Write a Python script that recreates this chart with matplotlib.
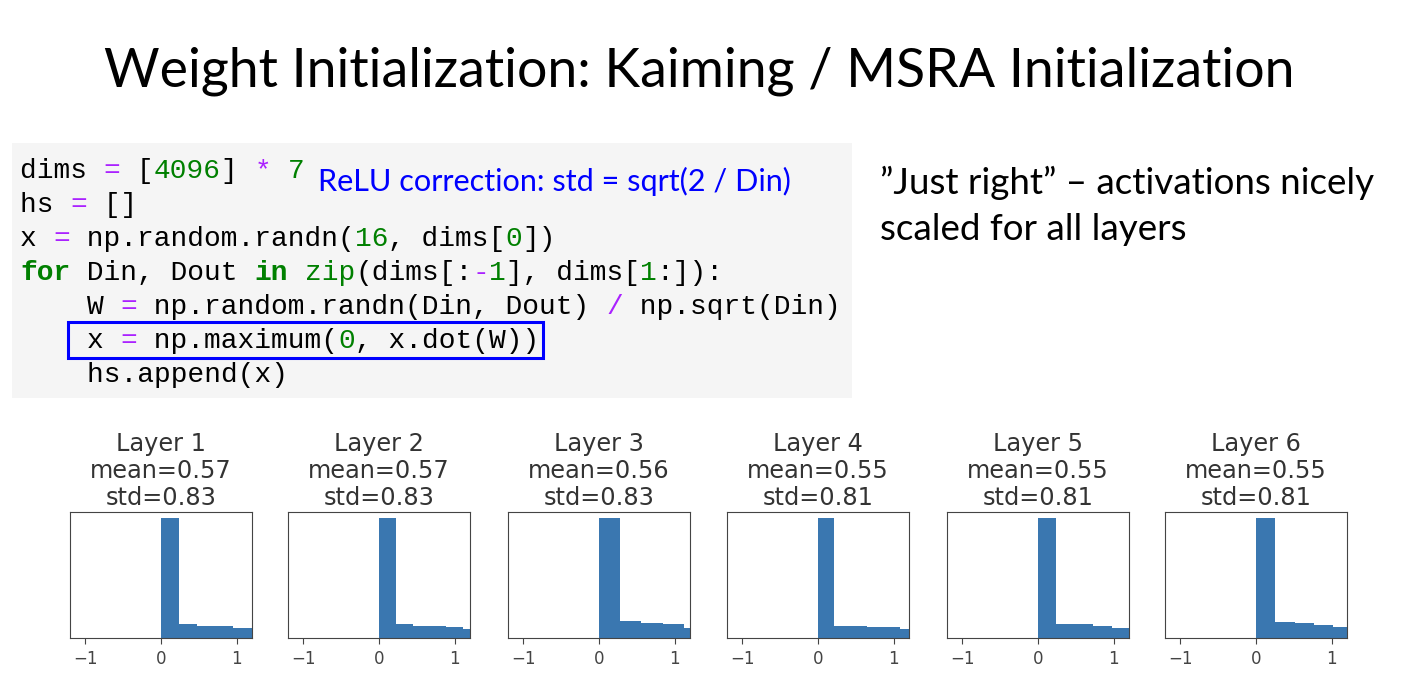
import numpy as np
import matplotlib.pyplot as plt
from matplotlib.patches import Rectangle

W_PX, H_PX = 1419, 700

title = "Weight Initialization: Kaiming / MSRA Initialization"
note = "ReLU correction: std = sqrt(2 / Din)"
remark = ["\u201dJust right\u201d \u2013 activations nicely", "scaled for all layers"]

# per-layer stats shown in titles
layers = [1, 2, 3, 4, 5, 6]
means = [0.57, 0.57, 0.56, 0.55, 0.55, 0.55]
stds = [0.83, 0.83, 0.83, 0.81, 0.81, 0.81]

# histogram bin widths and bar heights (tallest bar = 100)
bin_widths = [0.238, 0.222, 0.28, 0.215, 0.243, 0.255]
bar_heights = [
    [100, 11.4, 10.0, 10.0, 8.6, 8.6],
    [100, 11.4, 10.0, 10.0, 8.9, 7.2],
    [100, 14.2, 12.8, 11.7, 8.6],
    [100, 10.0, 10.0, 8.9, 8.9, 7.2],
    [100, 11.4, 11.4, 10.0, 8.6],
    [100, 13.5, 12.2, 10.8, 9.4],
]

# code listing, tokens as (text, kind)
code = [
    [("dims ", "n"), ("=", "o"), (" [", "n"), ("4096", "m"), ("] ", "n"), ("*", "o"), (" ", "n"), ("7", "m")],
    [("hs ", "n"), ("=", "o"), (" []", "n")],
    [("x ", "n"), ("=", "o"), (" np.random.randn(", "n"), ("16", "m"), (", dims[", "n"), ("0", "m"), ("])", "n")],
    [("for", "k"), (" Din, Dout ", "n"), ("in", "k"), (" ", "n"), ("zip", "b"), ("(dims[:", "n"),
     ("-", "o"), ("1", "m"), ("], dims[", "n"), ("1", "m"), (":]):", "n")],
    [("    W ", "n"), ("=", "o"), (" np.random.randn(Din, Dout) ", "n"), ("/", "o"), (" np.sqrt(Din)", "n")],
    [("    x ", "n"), ("=", "o"), (" np.maximum(", "n"), ("0", "m"), (", x.dot(W))", "n")],
    [("    hs.append(x)", "n")],
]
token_color = {"n": "black", "o": "#aa22ff", "m": "#008000", "k": "#008000", "b": "#008000"}

fig = plt.figure(figsize=(W_PX / 100, H_PX / 100), dpi=100)


def fx(px):
    return px / W_PX


def fy(py):
    return 1 - py / H_PX


fig.text(fx(699), fy(71), title, ha="center", va="center", fontsize=38.7,
         family="Lato", color="black")

# code box
fig.patches.append(Rectangle((fx(12), fy(398)), fx(840), (398 - 143) / H_PX,
                             transform=fig.transFigure, facecolor="#f5f5f5", edgecolor="none"))
code_fs = 20.1
char_px = 0.6 * code_fs * 100 / 72
for row, tokens in enumerate(code):
    col = 0
    y = fy(171 + row * 34)
    for text, kind in tokens:
        fig.text(fx(20 + col * char_px), y, text, ha="left", va="center", fontsize=code_fs,
                 family="Liberation Mono", color=token_color[kind],
                 fontweight="bold" if kind == "k" else "normal")
        col += len(text)

fig.text(fx(318), fy(181), note, ha="left", va="center", fontsize=22.1, family="Lato", color="#0000ff")
fig.patches.append(Rectangle((fx(68), fy(358)), fx(475), 36 / H_PX, transform=fig.transFigure,
                             facecolor="none", edgecolor="#0000ff", linewidth=2.2))

for i, line in enumerate(remark):
    fig.text(fx(880), fy(183 + i * 47), line, ha="left", va="center", fontsize=26.5,
             family="Lato", color="black")

ax_left = [70, 288, 508, 727, 947, 1165]
for i in range(6):
    ax = fig.add_axes([fx(ax_left[i]), fy(638), 182 / W_PX, 126 / H_PX])
    edges = np.arange(len(bar_heights[i]) + 1) * bin_widths[i]
    ax.hist(edges[:-1], bins=edges, weights=bar_heights[i], color="#3a77b0")
    ax.set_xlim(-1.2, 1.2)
    ax.set_xticks([-1, 0, 1])
    ax.set_yticks([])
    ax.tick_params(axis="x", labelsize=12, colors="#444444", length=4, pad=5)
    for s in ax.spines.values():
        s.set_color("#444444")
    ax.set_title(f"Layer {layers[i]}\nmean={means[i]:.2f}\nstd={stds[i]:.2f}",
                 fontsize=17.3, color="#333333", pad=5, linespacing=1.15)

fig.savefig("out.png", dpi=100)
